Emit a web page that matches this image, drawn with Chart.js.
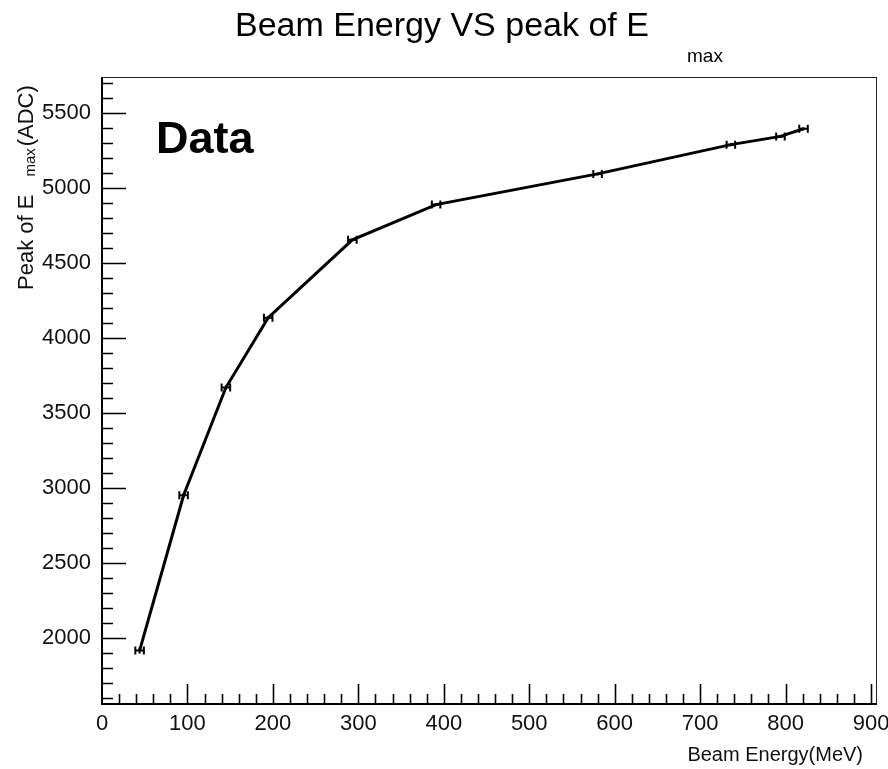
<!DOCTYPE html>
<html lang="en">
<head>
<meta charset="UTF-8">
<title>Beam Energy VS peak of E max</title>
<script src="https://cdn.jsdelivr.net/npm/chart.js"></script>
<style>
  html, body { margin: 0; padding: 0; background: #fff; }
  #wrap { width: 888px; height: 769px; }
</style>
</head>
<body>
<div id="wrap"><canvas id="peakChart" width="888" height="769"></canvas></div>
<script>
// measured points (Beam Energy in MeV, peak of E_max in ADC)
const beamEnergy = [44, 95.5, 145, 194.5, 293, 391, 580, 736, 794, 821];
const peakEmax = [1913, 2949, 3667, 4133, 4652, 4887, 5092, 5287, 5342, 5393];
const energyErr = [5, 5, 5, 5, 5, 5, 5, 5, 5, 5];
const peakErr = [20, 15, 15, 12, 10, 10, 10, 10, 10, 10];

const xTickValues = [0, 100, 200, 300, 400, 500, 600, 700, 800, 900];
const yTickValues = [2000, 2500, 3000, 3500, 4000, 4500, 5000, 5500];
const xRange = [0, 907];
const yRange = [1557, 5738];

const FONT = '"Liberation Sans", Arial, Helvetica, sans-serif';
Chart.defaults.font.family = FONT;
Chart.defaults.color = '#111';

// ROOT-like frame, inward ticks, error bars and texts
const rootStyle = {
    id: 'rootStyle',
    afterDatasetsDraw(chart) {
        const ctx = chart.ctx;
        const xs = chart.scales.x, ys = chart.scales.y;
        ctx.save();
        ctx.strokeStyle = '#000';
        ctx.lineWidth = 2;
        for (let i = 0; i < beamEnergy.length; i++) {
            const px = xs.getPixelForValue(beamEnergy[i]);
            const py = ys.getPixelForValue(peakEmax[i]);
            const x1 = xs.getPixelForValue(beamEnergy[i] - energyErr[i]);
            const x2 = xs.getPixelForValue(beamEnergy[i] + energyErr[i]);
            const y1 = ys.getPixelForValue(peakEmax[i] - peakErr[i]);
            const y2 = ys.getPixelForValue(peakEmax[i] + peakErr[i]);
            ctx.beginPath();
            ctx.moveTo(x1, py); ctx.lineTo(x2, py);
            ctx.moveTo(x1, py - 4); ctx.lineTo(x1, py + 4);
            ctx.moveTo(x2, py - 4); ctx.lineTo(x2, py + 4);
            ctx.moveTo(px, y1); ctx.lineTo(px, y2);
            ctx.stroke();
        }
        ctx.restore();
    },
    afterDraw(chart) {
        const ctx = chart.ctx;
        const a = chart.chartArea;
        const xs = chart.scales.x, ys = chart.scales.y;
        ctx.save();

        // frame
        ctx.strokeStyle = '#222';
        ctx.lineWidth = 1;
        ctx.strokeRect(a.left + 0.5, a.top + 0.5, a.right - a.left - 1, a.bottom - a.top - 1);
        ctx.strokeStyle = '#000';
        ctx.lineWidth = 2;
        ctx.beginPath();
        ctx.moveTo(a.left, a.top); ctx.lineTo(a.left, a.bottom); ctx.lineTo(a.right, a.bottom);
        ctx.stroke();

        // y ticks (major 500, minor 100)
        ctx.lineWidth = 1.6;
        ctx.beginPath();
        for (let v = Math.ceil(yRange[0] / 100) * 100; v <= yRange[1]; v += 100) {
            const y = Math.round(ys.getPixelForValue(v)) + 0.5;
            const len = v % 500 === 0 ? 24 : 11;
            ctx.moveTo(a.left, y); ctx.lineTo(a.left + len, y);
        }
        // x ticks (major 100, minor 20)
        for (let v = 20; v <= xRange[1]; v += 20) {
            const x = Math.round(xs.getPixelForValue(v)) + 0.5;
            const len = v % 100 === 0 ? 20 : 10;
            ctx.moveTo(x, a.bottom); ctx.lineTo(x, a.bottom - len);
        }
        ctx.stroke();

        ctx.fillStyle = '#000';
        // title
        ctx.textBaseline = 'alphabetic';
        ctx.textAlign = 'left';
        ctx.font = '34px ' + FONT;
        ctx.fillText('Beam Energy VS peak of E', 235, 36);
        ctx.font = '19px ' + FONT;
        ctx.fillText('max', 687, 62);

        // "Data" label
        ctx.font = 'bold 45px ' + FONT;
        ctx.fillText('Data', 156, 153);

        // x axis title
        ctx.font = '20px ' + FONT;
        ctx.textAlign = 'right';
        ctx.fillStyle = '#111';
        ctx.fillText('Beam Energy(MeV)', 863, 761);

        // y axis title (rotated)
        ctx.translate(33, 290);
        ctx.rotate(-Math.PI / 2);
        ctx.textAlign = 'left';
        ctx.font = '22px ' + FONT;
        const main = 'Peak of E';
        ctx.fillText(main, 0, 0);
        let off = ctx.measureText(main).width + 18;
        ctx.font = '15px ' + FONT;
        ctx.fillText('max', off, 2);
        off += ctx.measureText('max').width + 2;
        ctx.font = '22px ' + FONT;
        ctx.fillText('(ADC)', off, 0);

        ctx.restore();
    }
};

const ctx = document.getElementById('peakChart').getContext('2d');
new Chart(ctx, {
    type: 'scatter',
    data: {
        datasets: [{
            label: 'Data',
            data: beamEnergy.map((e, i) => ({ x: e, y: peakEmax[i] })),
            showLine: true,
            borderColor: '#000',
            borderWidth: 3,
            pointRadius: 0,
            tension: 0
        }]
    },
    options: {
        responsive: false,
        animation: false,
        devicePixelRatio: 1,
        layout: { padding: { top: 77, right: 11, left: 0, bottom: 0 } },
        plugins: {
            legend: { display: false },
            tooltip: { enabled: false }
        },
        scales: {
            x: {
                type: 'linear',
                min: xRange[0],
                max: xRange[1],
                border: { display: false },
                grid: { display: false, drawTicks: false },
                afterBuildTicks: s => { s.ticks = xTickValues.map(v => ({ value: v })); },
                afterFit: s => { s.height = 65; s.paddingLeft = 0; s.paddingRight = 0; },
                ticks: { padding: 7, maxRotation: 0, font: { size: 22 }, color: '#111', callback: v => String(v) }
            },
            y: {
                type: 'linear',
                min: yRange[0],
                max: yRange[1],
                border: { display: false },
                grid: { display: false, drawTicks: false },
                afterBuildTicks: s => { s.ticks = yTickValues.map(v => ({ value: v })); },
                afterFit: s => { s.width = 102; s.paddingTop = 0; s.paddingBottom = 0; },
                ticks: { padding: 11, font: { size: 22 }, color: '#111', callback: v => String(v) }
            }
        }
    },
    plugins: [rootStyle]
});
</script>
</body>
</html>
